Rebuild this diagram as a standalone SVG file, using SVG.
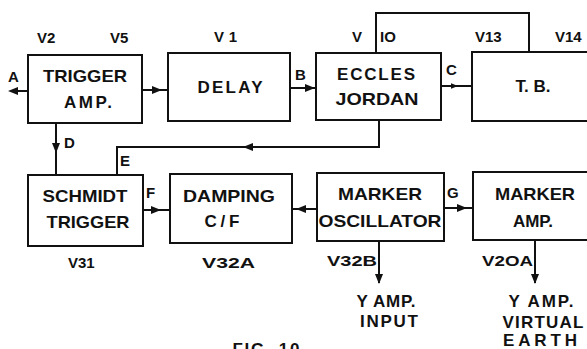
<svg xmlns="http://www.w3.org/2000/svg" xmlns:xlink="http://www.w3.org/1999/xlink" width="587" height="349" viewBox="0 0 587 349">
<style>
  .box { fill: #fff; stroke: #111; stroke-width: 2; }
  .wire { fill: none; stroke: #111; stroke-width: 2; }
  .t { font-family: "Liberation Sans", Arial, sans-serif; font-size: 17px; font-weight: bold; fill: #111; text-anchor: middle; }
  .lb { font-family: "Liberation Sans", Arial, sans-serif; font-size: 15px; font-weight: bold; fill: #111; }
  .ah { fill: #111; }
</style>
<defs>
  <path id="ah" d="M0,0 L-10,-4 L-10,4 Z"/>
</defs>
<rect width="587" height="349" fill="#fff"/>

<g id="connectors">
  <path class="wire" d="M28,91 H11"/>
  <use href="#ah" class="ah" transform="translate(8,91) rotate(180)"/>
  <path class="wire" d="M142,90 H168"/>
  <use href="#ah" class="ah" transform="translate(162,90)"/>
  <path class="wire" d="M290,88 H316"/>
  <use href="#ah" class="ah" transform="translate(315,88)"/>
  <path class="wire" d="M441,86 H472"/>
  <use href="#ah" class="ah" transform="translate(458,86) scale(0.7)"/>
  <path class="wire" d="M376,53 V13 H529 V52"/>
  <path class="wire" d="M379,120 V147 H117 V175"/>
  <use href="#ah" class="ah" transform="translate(243,147) rotate(180)"/>
  <path class="wire" d="M56,123 V175"/>
  <use href="#ah" class="ah" transform="translate(56,153) rotate(90)"/>
  <path class="wire" d="M143,210 H170"/>
  <use href="#ah" class="ah" transform="translate(161,210)"/>
  <path class="wire" d="M317,209 H292"/>
  <use href="#ah" class="ah" transform="translate(296,209) rotate(180)"/>
  <path class="wire" d="M444,208 H473"/>
  <use href="#ah" class="ah" transform="translate(467,208)"/>
  <path class="wire" d="M379,241 V283"/>
  <use href="#ah" class="ah" transform="translate(379,284) rotate(90)"/>
  <path class="wire" d="M535,240 V283"/>
  <use href="#ah" class="ah" transform="translate(535,284) rotate(90)"/>
  <text class="lb" x="8" y="82">A</text>
  <text class="lb" x="295" y="80">B</text>
  <text class="lb" x="446" y="75">C</text>
  <text class="lb" x="64" y="148">D</text>
  <text class="lb" x="120" y="166">E</text>
  <text class="lb" x="146" y="198">F</text>
  <text class="lb" x="447" y="198">G</text>
</g>

<g id="trigger-amp">
  <rect class="box" x="28" y="55" width="114" height="68"/>
  <text class="t" x="85" y="82" textLength="84" lengthAdjust="spacingAndGlyphs">TRIGGER</text>
  <text class="t" x="88" y="108" textLength="48" lengthAdjust="spacing">AMP.</text>
  <text class="lb" x="37" y="43">V2</text>
  <text class="lb" x="110" y="43">V5</text>
</g>

<g id="delay">
  <rect class="box" x="168" y="53" width="122" height="68"/>
  <text class="t" x="230" y="93" textLength="65" lengthAdjust="spacing">DELAY</text>
  <text class="lb" x="214" y="42" textLength="23" lengthAdjust="spacing">V1</text>
</g>

<g id="eccles-jordan">
  <rect class="box" x="316" y="53" width="125" height="67"/>
  <text class="t" x="376" y="80" textLength="78" lengthAdjust="spacing">ECCLES</text>
  <text class="t" x="377" y="105" textLength="83" lengthAdjust="spacingAndGlyphs">JORDAN</text>
  <text class="lb" x="352" y="42">V</text>
  <text class="lb" x="380" y="42">IO</text>
</g>

<g id="tb">
  <rect class="box" x="472" y="52" width="130" height="69"/>
  <text class="t" x="533" y="92">T. B.</text>
  <text class="lb" x="475" y="42">V13</text>
  <text class="lb" x="555" y="42">V14</text>
</g>

<g id="schmidt-trigger">
  <rect class="box" x="28" y="175" width="115" height="71"/>
  <text class="t" x="85" y="202" textLength="85" lengthAdjust="spacingAndGlyphs">SCHMIDT</text>
  <text class="t" x="88" y="228" textLength="83" lengthAdjust="spacingAndGlyphs">TRIGGER</text>
  <text class="lb" x="68" y="268">V31</text>
</g>

<g id="damping-cf">
  <rect class="box" x="170" y="174" width="122" height="69"/>
  <text class="t" x="229" y="202" textLength="92" lengthAdjust="spacingAndGlyphs">DAMPING</text>
  <text class="t" x="222" y="227" textLength="35" lengthAdjust="spacing">C/F</text>
  <text class="lb" x="202" y="268" textLength="53" lengthAdjust="spacingAndGlyphs">V32A</text>
</g>

<g id="marker-oscillator">
  <rect class="box" x="317" y="173" width="127" height="68"/>
  <text class="t" x="380" y="200" textLength="84" lengthAdjust="spacingAndGlyphs">MARKER</text>
  <text class="t" x="380" y="227" textLength="123" lengthAdjust="spacingAndGlyphs">OSCILLATOR</text>
  <text class="lb" x="327" y="266" textLength="50" lengthAdjust="spacingAndGlyphs">V32B</text>
  <text class="t" x="386" y="307" font-size="15" textLength="59" lengthAdjust="spacing">Y AMP.</text>
  <text class="t" x="389" y="327" font-size="15" textLength="58" lengthAdjust="spacing">INPUT</text>
</g>

<g id="marker-amp">
  <rect class="box" x="473" y="172" width="130" height="68"/>
  <text class="t" x="535" y="200" textLength="80" lengthAdjust="spacingAndGlyphs">MARKER</text>
  <text class="t" x="533" y="227" textLength="40" lengthAdjust="spacing">AMP.</text>
  <text class="lb" x="482" y="266" textLength="51" lengthAdjust="spacingAndGlyphs">V2OA</text>
  <text class="t" x="541" y="307" font-size="15" textLength="65" lengthAdjust="spacing">Y AMP.</text>
  <text class="t" x="543" y="328" font-size="15" textLength="81" lengthAdjust="spacing">VIRTUAL</text>
  <text class="t" x="540" y="346" font-size="15" textLength="74" lengthAdjust="spacing">EARTH</text>
</g>

<text class="t" x="266" y="355" font-size="15" textLength="67" lengthAdjust="spacing">FIG. 10</text>
</svg>
